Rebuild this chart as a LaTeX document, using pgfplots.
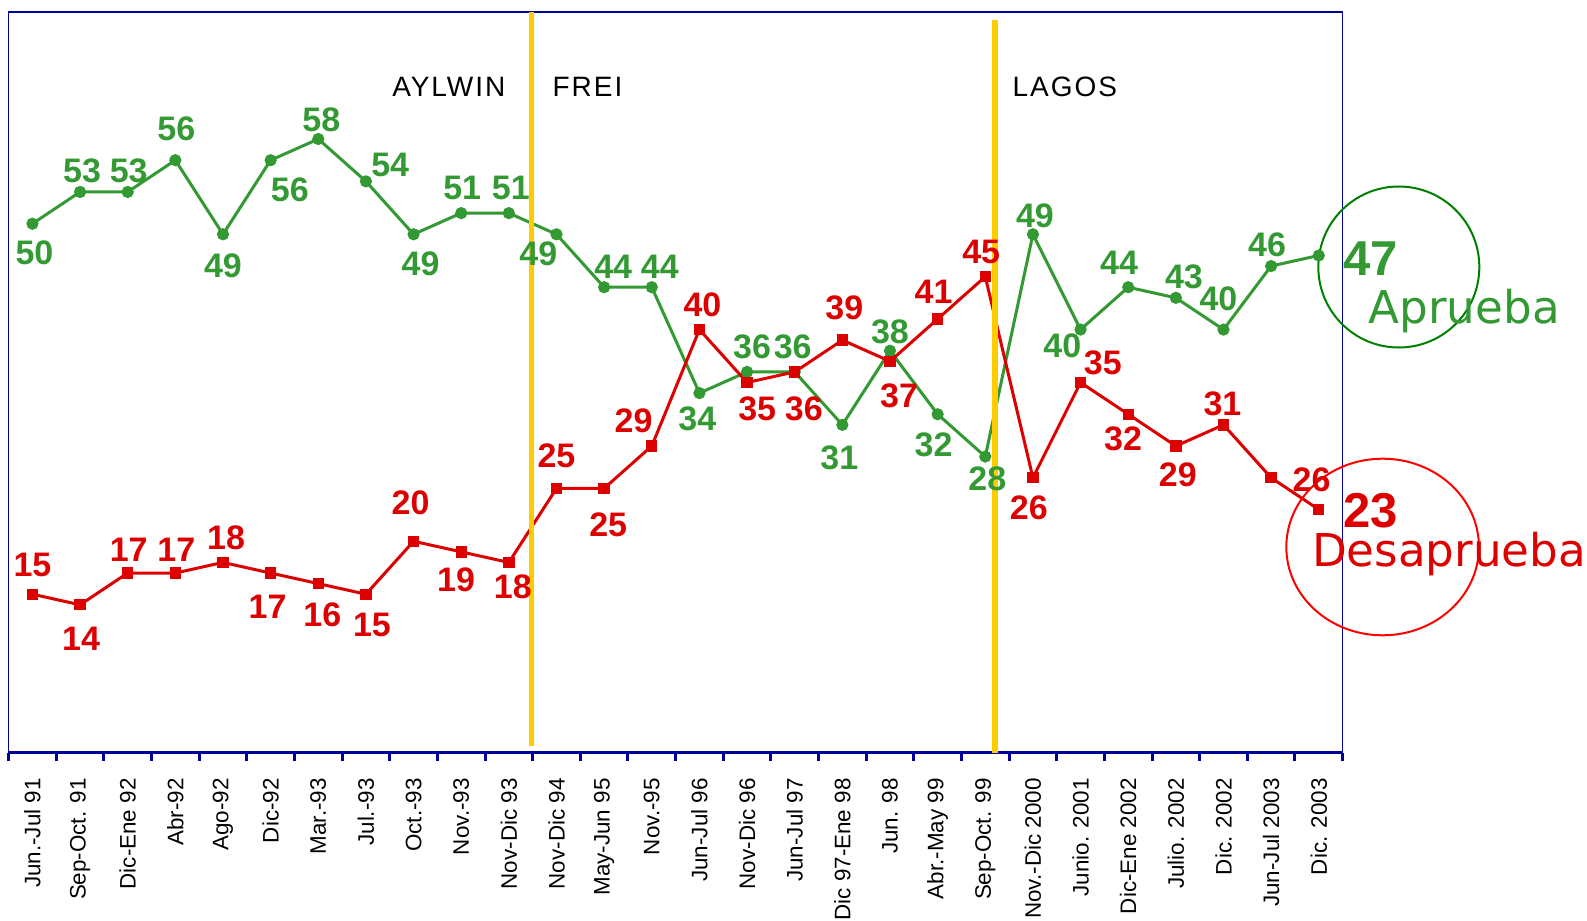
\documentclass[border=0pt]{standalone}
\usepackage{fontspec}
\setmainfont{Liberation Sans}
\newfontfamily\vera{DejaVu Sans}
\newfontfamily\spaced[LetterSpace=7]{Liberation Sans}
\usepackage{pgfplots}
\pgfplotsset{compat=1.18}
\usepackage{pgfplotstable}

\definecolor{verde}{HTML}{339933}
\definecolor{rojo}{HTML}{DD0000}
\definecolor{marco}{HTML}{000099}
\definecolor{amarillo}{HTML}{FFCC00}
\definecolor{circverde}{HTML}{008000}
\definecolor{circrojo}{HTML}{FF0000}

\newcommand{\labfont}{\fontsize{17}{18}\selectfont\bfseries}

% i, value, label, label offset (dx right, dy up, in px)
\pgfplotstableread{
i y lab dx dy
0 50 50 2 -29
1 53 53 2 21
2 53 53 1 21
3 56 56 1 31
4 49 49 0 -31
5 56 56 19 -29
6 58 58 3 19
7 54 54 24 16
8 49 49 7 -29
9 51 51 1 25
10 51 51 2 25
11 49 49 -18 -19
12 44 44 9 20
13 44 44 8 20
14 34 34 -2 -25
15 36 36 5 25
16 36 36 -2 25
17 31 31 -3 -33
18 38 38 0 19
19 32 32 -4 -30
20 28 28 2 -22
21 49 49 2 18
22 40 40 -18 -16
23 44 44 -9 24
24 43 43 8 21
25 40 40 -5 30
26 46 46 -4 21
27 47 {} 0 0
}\tabA

\pgfplotstableread{
i y lab dx dy
0 15 15 0 29
1 14 14 1 -34
2 17 17 1 23
3 17 17 1 23
4 18 18 3 24
5 17 17 -3 -33
6 16 16 4 -31
7 15 15 6 -30
8 20 20 -3 38
9 19 19 -5 -28
10 18 18 4 -24
11 25 25 0 32
12 25 25 4 -36
13 29 29 -18 25
14 40 40 3 24
15 35 35 10 -26
16 36 36 9 -36
17 39 39 2 32
18 37 37 9 -34
19 41 41 -4 27
20 45 45 -4 24
21 26 26 -4 -30
22 35 35 22 19
23 32 32 -5 -24
24 29 29 2 -28
25 31 31 -1 21
26 26 26 40 -2
27 23 {} 0 0
}\tabD

\begin{document}
\begin{tikzpicture}
\useasboundingbox (0,0) rectangle (793.5pt,460.5pt);
\begin{axis}[at={(4.3pt,84pt)}, anchor=south west,
  width=667pt, height=370.5pt, scale only axis,
  xmin=-0.5, xmax=27.5, ymin=0, ymax=70,
  clip=false,
  axis line style={draw=marco, line width=0.6pt},
  ytick=\empty,
  xtick={0,...,27},
  xticklabels={Jun.-Jul 91, Sep-Oct. 91, Dic-Ene 92, Abr-92, Ago-92, Dic-92, Mar.-93, Jul.-93, Oct.-93, Nov.-93, Nov-Dic 93, Nov-Dic 94, May-Jun 95, Nov.-95, Jun-Jul 96, Nov-Dic 96, Jun-Jul 97, Dic 97-Ene 98, Jun. 98, Abr.-May 99, Sep-Oct. 99, Nov.-Dic 2000, Junio. 2001, Dic-Ene 2002, Julio. 2002, Dic. 2002, Jun-Jul 2003, Dic. 2003},
  minor xtick={-0.5,0.5,...,27.5},
  major tick length=0pt, minor tick length=4pt,
  tick align=outside, tick pos=left,
  minor tick style={draw=marco, line width=1.5pt},
  xticklabel shift=12.5pt,
  xticklabel style={rotate=90, anchor=east, inner sep=0pt, font=\fontsize{11.2}{13}\selectfont},
  every axis plot/.append style={line width=1.5pt},
  point meta=explicit symbolic,
  visualization depends on={\thisrow{dx}\as\dx},
  visualization depends on={\thisrow{dy}\as\dy},
  nodes near coords,
]
\addplot[verde, mark=*, mark size=2.8pt, mark options={line width=0.5pt},
  every node near coord/.append style={anchor=center, inner sep=0pt,
    xshift=\dx*0.506pt, yshift=\dy*0.506pt, font=\labfont, text=verde}]
  table[x=i, y=y, meta=lab] {\tabA};
\addplot[rojo, mark=square*, mark size=2.6pt, mark options={line width=0.5pt},
  every node near coord/.append style={anchor=center, inner sep=0pt,
    xshift=\dx*0.506pt, yshift=\dy*0.506pt, font=\labfont, text=rojo}]
  table[x=i, y=y, meta=lab] {\tabD};

\draw[marco, line width=1.5pt] (rel axis cs:0,0) -- (rel axis cs:1,0);
\draw[amarillo, line width=2.7pt] (axis cs:10.47,70) -- (axis cs:10.47,0.66);
\draw[amarillo, line width=2.7pt] (axis cs:20.2,69.24) -- (axis cs:20.2,0);

\node[anchor=base, inner sep=0pt, font=\spaced\fontsize{14}{16}\selectfont] at (axis cs:8.74,62.0) {AYLWIN};
\node[anchor=base, inner sep=0pt, font=\spaced\fontsize{14}{16}\selectfont] at (axis cs:11.65,62.0) {FREI};
\node[anchor=base, inner sep=0pt, font=\spaced\fontsize{14}{16}\selectfont] at (axis cs:21.67,62.0) {LAGOS};

\draw[circverde, line width=1pt] (axis cs:28.68,45.91) circle[radius=40.25pt];
\draw[circrojo, line width=1pt] (axis cs:28.34,19.46) ellipse[x radius=48.15pt, y radius=44.15pt];

\node[anchor=base west, inner sep=0pt, text=verde, font=\fontsize{24.5}{26}\selectfont\bfseries] at (axis cs:27.51,45.15) {47};
\node[anchor=base west, inner sep=0pt, text=verde, font=\vera\fontsize{22.6}{24}\selectfont] at (axis cs:28.04,40.53) {Aprueba};
\node[anchor=base west, inner sep=0pt, text=rojo, font=\fontsize{24.5}{26}\selectfont\bfseries] at (axis cs:27.51,21.28) {23};
\node[anchor=base west, inner sep=0pt, text=rojo, font=\vera\fontsize{22.6}{24}\selectfont] at (axis cs:26.85,17.6) {Desaprueba};
\end{axis}
\end{tikzpicture}
\end{document}
